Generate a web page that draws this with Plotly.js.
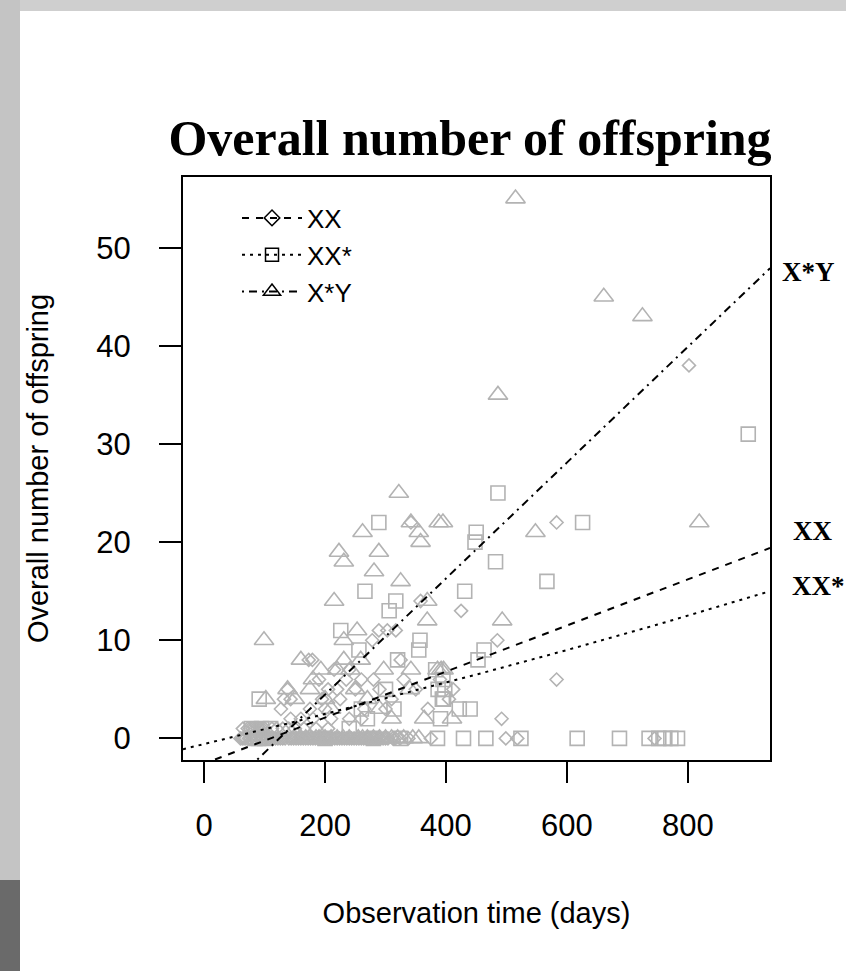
<!DOCTYPE html>
<html>
<head>
<meta charset="utf-8">
<script src="https://cdn.plot.ly/plotly-3.0.1.min.js"></script>
<style>
  html, body { margin: 0; padding: 0; }
  body {
    width: 846px; height: 971px; overflow: hidden;
    background:
      linear-gradient(to bottom, transparent 0 880px, #6a6a6a 880px 971px) 0 0 / 20px 971px no-repeat,
      linear-gradient(to right, #c4c4c4 0 20px, transparent 20px) 0 0 / 846px 971px no-repeat,
      linear-gradient(to bottom, #cfcfcf 0 11px, #ffffff 11px) 0 0 / 846px 971px no-repeat;
  }
  #chart { width: 846px; height: 971px; }
</style>
</head>
<body>
<div id="chart"></div>
<script>
// Observed offspring counts per female, by genotype
const xxDays = [802, 583, 583, 485, 492, 412, 425, 358, 289, 303, 317, 278, 179, 173, 138, 143, 127, 143, 132, 300,
  325, 342, 190, 205, 215, 225, 200, 180, 235, 250, 265, 280, 290, 310, 330, 350, 370, 160, 175, 210,
  240, 260, 390, 405, 240, 260, 195, 220, 150, 120, 100, 80, 72, 88, 165, 185, 205,
  64, 76, 84, 92, 96, 112, 130, 140,
  60, 66, 74, 82, 90, 98, 106, 114, 122, 130, 140, 148, 156, 164, 172, 180, 188, 196, 204,
  212, 220, 228, 236, 244, 252, 260, 268, 276, 284, 292, 300, 312, 324, 338, 375, 499, 518, 745,
  63, 69, 77, 85, 94, 102, 110, 118, 126, 134, 144, 152, 160, 168, 176, 184, 192, 200, 208,
  216, 224, 232, 240, 248, 256, 264, 272, 280, 288, 296, 304, 316, 330];
const xxOffspring = [38, 22, 6, 10, 2, 5, 13, 14, 11, 11, 11, 10, 8, 8, 5, 4, 3, 2, 4, 3,
  8, 22, 6, 5, 7, 4, 3, 2, 6, 5, 3, 6, 5, 4, 6, 5, 3, 2, 3, 2,
  2, 2, 6, 4, 7, 6, 4, 5, 1, 1, 1, 1, 1, 1, 1, 1, 1,
  1, 1, 1, 1, 1, 1, 1, 1,
  0, 0, 0, 0, 0, 0, 0, 0, 0, 0, 0, 0, 0, 0, 0, 0, 0, 0, 0,
  0, 0, 0, 0, 0, 0, 0, 0, 0, 0, 0, 0, 0, 0, 0, 0, 0, 0, 0,
  0, 0, 0, 0, 0, 0, 0, 0, 0, 0, 0, 0, 0, 0, 0, 0, 0, 0, 0,
  0, 0, 0, 0, 0, 0, 0, 0, 0, 0, 0, 0, 0];

const xxsDays = [900, 486, 450, 448, 626, 482, 567, 431, 463, 453, 422, 440, 396, 391, 289, 266, 317, 306, 357, 355,
  320, 387, 394, 314, 300, 256, 226, 91, 383, 395, 398, 260, 240, 270, 95, 110, 78,
  325, 386, 429, 466, 524, 617, 687, 736, 752, 762, 772, 783, 90, 200, 280, 84, 100];
const xxsOffspring = [31, 25, 21, 20, 22, 18, 16, 15, 9, 8, 3, 3, 4, 2, 22, 15, 14, 13, 10, 9,
  8, 5, 4, 3, 5, 9, 11, 4, 7, 6, 5, 3, 1, 2, 1, 1, 1,
  0, 0, 0, 0, 0, 0, 0, 0, 0, 0, 0, 0, 0, 0, 0, 0, 0];

const xyDays = [515, 661, 725, 486, 819, 548, 395, 369, 493, 396, 322, 262, 342, 388, 355, 358, 223, 231, 289, 281,
  325, 215, 369, 99, 231, 253, 160, 193, 220, 242, 297, 342, 386, 102, 138, 340, 364, 259, 231, 150,
  175, 200, 270, 290, 310, 392, 410, 210, 180, 250,
  160, 175, 190, 210, 230, 255, 270, 300, 320, 345,
  150, 168, 185, 200, 220, 240, 262, 280, 290, 310, 330, 355];
const xyOffspring = [55, 45, 43, 35, 22, 21, 22, 12, 12, 7, 25, 21, 22, 22, 21, 20, 19, 18, 19, 17,
  16, 14, 14, 10, 10, 11, 8, 7, 7, 7, 7, 7, 7, 4, 5, 5, 2, 8, 8, 4,
  5, 4, 4, 3, 2, 7, 2, 3, 6, 5,
  0, 0, 0, 0, 0, 0, 0, 0, 0, 0,
  0, 0, 0, 0, 0, 0, 0, 0, 0, 0, 0, 0];

// Fitted trend for each genotype
const fitXXDays = [18, 200, 400, 600, 800, 936];
const fitXX = [-2.15, 2.1, 6.8, 11.5, 16.2, 19.4];
const fitXXsDays = [-35, 150, 300, 450, 600, 750, 936];
const fitXXs = [-1.1, 1.7, 4.1, 6.5, 9.0, 11.6, 15.0];
const fitXYDays = [88, 200, 400, 600, 800, 936];
const fitXY = [-2.15, 4.5, 16.3, 28.1, 39.9, 47.9];

const groupNames = ['XX', 'XX*', 'X*Y'];
const endLabels = ['XX', 'XX*', 'X*Y'];
const xTicks = [0, 200, 400, 600, 800];
const yTicks = [0, 10, 20, 30, 40, 50];

const pointGray = '#b3b3b3';
const sans = 'Arial, "Liberation Sans", sans-serif';
const serif = '"Liberation Serif", "Times New Roman", serif';
const dashXX = '7px,7px';
const dashXXs = '3px,5px';
const dashXY = '2px,5px,8px,5px';

function pts(x, y, symbol, size) {
  return {
    x: x, y: y, type: 'scatter', mode: 'markers', showlegend: false, hoverinfo: 'skip',
    marker: { symbol: symbol, size: size, color: pointGray, line: { color: pointGray, width: 1.6 } }
  };
}
function fit(x, y, dash) {
  return {
    x: x, y: y, type: 'scatter', mode: 'lines', showlegend: false, hoverinfo: 'skip',
    line: { color: '#000', width: 2, dash: dash }
  };
}
function key(name, symbol, size, dash) {
  return {
    x: [null], y: [null], type: 'scatter', mode: 'lines+markers', name: name,
    line: { color: '#000', width: 2, dash: dash },
    marker: { symbol: symbol, size: size, color: '#000', line: { color: '#000', width: 1.5 } }
  };
}

const traces = [
  pts(xxDays, xxOffspring, 'diamond-open', 10),
  pts(xxsDays, xxsOffspring, 'square-open', 14),
  pts(xyDays, xyOffspring, 'triangle-up-open', 17),
  fit(fitXXDays, fitXX, dashXX),
  fit(fitXXsDays, fitXXs, dashXXs),
  fit(fitXYDays, fitXY, dashXY),
  key(groupNames[0], 'diamond-open', 12, dashXX),
  key(groupNames[1], 'square-open', 13, dashXXs),
  key(groupNames[2], 'triangle-up-open', 15, dashXY)
];

// Group names beside the right end of each trend line
const endAnnots = [
  { y: fitXX[fitXX.length - 1] + 1.7, text: endLabels[0], shift: 21 },
  { y: fitXXs[fitXXs.length - 1] + 0.5, text: endLabels[1], shift: 20 },
  { y: fitXY[fitXY.length - 1] - 0.4, text: endLabels[2], shift: 10 }
].map(a => ({
  xref: 'paper', x: 1.0, yref: 'y', y: a.y,
  xanchor: 'left', yanchor: 'middle', xshift: a.shift,
  text: a.text, showarrow: false,
  font: { family: serif, size: 27, color: '#000', weight: 700 }
}));

const layout = {
  width: 846, height: 971,
  margin: { l: 183, r: 76, t: 177, b: 211 },
  paper_bgcolor: 'rgba(0,0,0,0)',
  plot_bgcolor: '#ffffff',
  title: {
    text: 'Overall number of offspring',
    font: { family: serif, size: 50, color: '#000', weight: 700 },
    x: 470 / 846, xref: 'container', xanchor: 'center',
    y: 1 - 137 / 971, yref: 'container', yanchor: 'middle'
  },
  xaxis: {
    range: [-35, 936], tickvals: xTicks, ticktext: xTicks.map(String),
    ticks: 'outside', ticklen: 21, tickwidth: 2, tickcolor: '#000',
    showline: true, mirror: true, linecolor: '#000', linewidth: 2,
    showgrid: false, zeroline: false, ticklabelstandoff: 16,
    tickfont: { family: sans, size: 31, color: '#000' },
    title: { text: 'Observation time (days)', font: { family: sans, size: 29, color: '#000' }, standoff: 60 }
  },
  yaxis: {
    range: [-2.2, 57.2], tickvals: yTicks, ticktext: yTicks.map(String),
    ticks: 'outside', ticklen: 22, tickwidth: 2, tickcolor: '#000',
    showline: true, mirror: true, linecolor: '#000', linewidth: 2,
    showgrid: false, zeroline: false, ticklabelstandoff: 22,
    tickfont: { family: sans, size: 31, color: '#000' },
    title: { text: 'Overall number of offspring', font: { family: sans, size: 29, color: '#000' }, standoff: 39 }
  },
  legend: {
    x: 0.092, y: 0.97, xanchor: 'left', yanchor: 'top',
    bgcolor: 'rgba(0,0,0,0)', borderwidth: 0, itemwidth: 60,
    font: { family: sans, size: 26, color: '#000' },
    tracegroupgap: 0
  },
  annotations: endAnnots,
  showlegend: true
};

Plotly.newPlot('chart', traces, layout, { staticPlot: true });
</script>
</body>
</html>
